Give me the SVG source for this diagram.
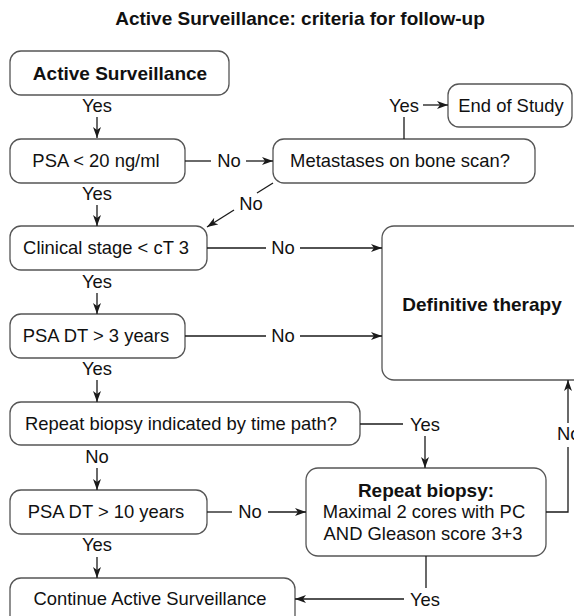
<svg xmlns="http://www.w3.org/2000/svg" width="574" height="616" viewBox="0 0 574 616">
<style>
.box{fill:#fff;stroke:#555;stroke-width:1.3}
.t{font-family:"Liberation Sans",Arial,sans-serif;font-size:18.4px;fill:#111;text-anchor:middle}
.b{font-family:"Liberation Sans",Arial,sans-serif;font-size:19px;font-weight:bold;fill:#111;text-anchor:middle}
.ln{fill:none;stroke:#1a1a1a;stroke-width:1.3}
.ar{fill:none;stroke:#1a1a1a;stroke-width:1.3;marker-end:url(#ah)}
</style>
<defs>
<marker id="ah" markerUnits="userSpaceOnUse" markerWidth="12" markerHeight="10" refX="11" refY="4.5" orient="auto">
<path d="M0,0.5 L11,4.5 L0,8.5 L3,4.5 z" fill="#1a1a1a"/>
</marker>
</defs>
<rect width="574" height="616" fill="#fff"/>
<text class="b" x="300" y="25">Active Surveillance: criteria for follow-up</text>

<g id="n-active">
<rect class="box" x="10" y="51" width="219" height="44" rx="11"/>
<text class="b" x="120" y="80">Active Surveillance</text>
</g>
<g id="n-psa20">
<rect class="box" x="10" y="139" width="175" height="44" rx="11"/>
<text class="t" x="96" y="167">PSA &lt; 20 ng/ml</text>
</g>
<g id="n-meta">
<rect class="box" x="273" y="139" width="262" height="44" rx="11"/>
<text class="t" x="400" y="167">Metastases on bone scan?</text>
</g>
<g id="n-end">
<rect class="box" x="448" y="84" width="124" height="43" rx="11"/>
<text class="t" x="511" y="112">End of Study</text>
</g>
<g id="n-clinical">
<rect class="box" x="10" y="226" width="197" height="44" rx="11"/>
<text class="t" x="106" y="254">Clinical stage &lt; cT 3</text>
</g>
<g id="n-psadt3">
<rect class="box" x="10" y="314" width="175" height="44" rx="11"/>
<text class="t" x="96" y="342">PSA DT &gt; 3 years</text>
</g>
<g id="n-definitive">
<rect class="box" x="382" y="226" width="210" height="154" rx="12"/>
<text class="b" x="482" y="311">Definitive therapy</text>
</g>
<g id="n-indicated">
<rect class="box" x="10" y="402" width="350" height="43" rx="11"/>
<text class="t" x="181" y="430">Repeat biopsy indicated by time path?</text>
</g>
<g id="n-psadt10">
<rect class="box" x="10" y="490" width="197" height="44" rx="11"/>
<text class="t" x="106" y="518">PSA DT &gt; 10 years</text>
</g>
<g id="n-repeat">
<rect class="box" x="306" y="468" width="240" height="88" rx="12"/>
<text class="b" x="426" y="497">Repeat biopsy:</text>
<text class="t" x="424" y="518">Maximal 2 cores with PC</text>
<text class="t" x="423" y="540">AND Gleason score 3+3</text>
</g>
<g id="n-continue">
<rect class="box" x="10" y="578" width="285" height="50" rx="11"/>
<text class="t" x="150" y="605">Continue Active Surveillance</text>
</g>

<g id="connectors">
<text class="t" x="97" y="112">Yes</text>
<line class="ar" x1="97" y1="117" x2="97" y2="138"/>

<line class="ln" x1="185" y1="161" x2="211" y2="161"/>
<text class="t" x="229" y="167">No</text>
<line class="ar" x1="246" y1="161" x2="273" y2="161"/>

<line class="ln" x1="404" y1="139" x2="404" y2="117"/>
<text class="t" x="404" y="112">Yes</text>
<line class="ar" x1="423" y1="105" x2="448" y2="105"/>

<line class="ln" x1="273" y1="183" x2="257" y2="193"/>
<text class="t" x="251" y="210">No</text>
<line class="ar" x1="234" y1="210" x2="207" y2="227"/>

<text class="t" x="97" y="200">Yes</text>
<line class="ar" x1="97" y1="205" x2="97" y2="226"/>

<line class="ln" x1="207" y1="248" x2="266" y2="248"/>
<text class="t" x="283" y="254">No</text>
<line class="ar" x1="300" y1="248" x2="382" y2="248"/>

<text class="t" x="97" y="288">Yes</text>
<line class="ar" x1="97" y1="293" x2="97" y2="314"/>

<line class="ln" x1="185" y1="336" x2="266" y2="336"/>
<text class="t" x="283" y="342">No</text>
<line class="ar" x1="300" y1="336" x2="382" y2="336"/>

<text class="t" x="97" y="375">Yes</text>
<line class="ar" x1="97" y1="380" x2="97" y2="402"/>

<line class="ln" x1="360" y1="424" x2="403" y2="424"/>
<text class="t" x="425" y="431">Yes</text>
<line class="ar" x1="425" y1="436" x2="425" y2="468"/>

<text class="t" x="97" y="463">No</text>
<line class="ar" x1="97" y1="468" x2="97" y2="490"/>

<line class="ln" x1="207" y1="512" x2="232" y2="512"/>
<text class="t" x="250" y="518">No</text>
<line class="ar" x1="268" y1="512" x2="306" y2="512"/>

<polyline class="ln" points="546,512 568,512 568,447"/>
<text class="t" x="557" y="440" style="text-anchor:start">No</text>
<line class="ar" x1="568" y1="423" x2="568" y2="380"/>

<text class="t" x="97" y="551">Yes</text>
<line class="ar" x1="97" y1="557" x2="97" y2="578"/>

<line class="ln" x1="426" y1="556" x2="426" y2="588"/>
<text class="t" x="425" y="606">Yes</text>
<line class="ar" x1="404" y1="599" x2="295" y2="599"/>
</g>
</svg>
